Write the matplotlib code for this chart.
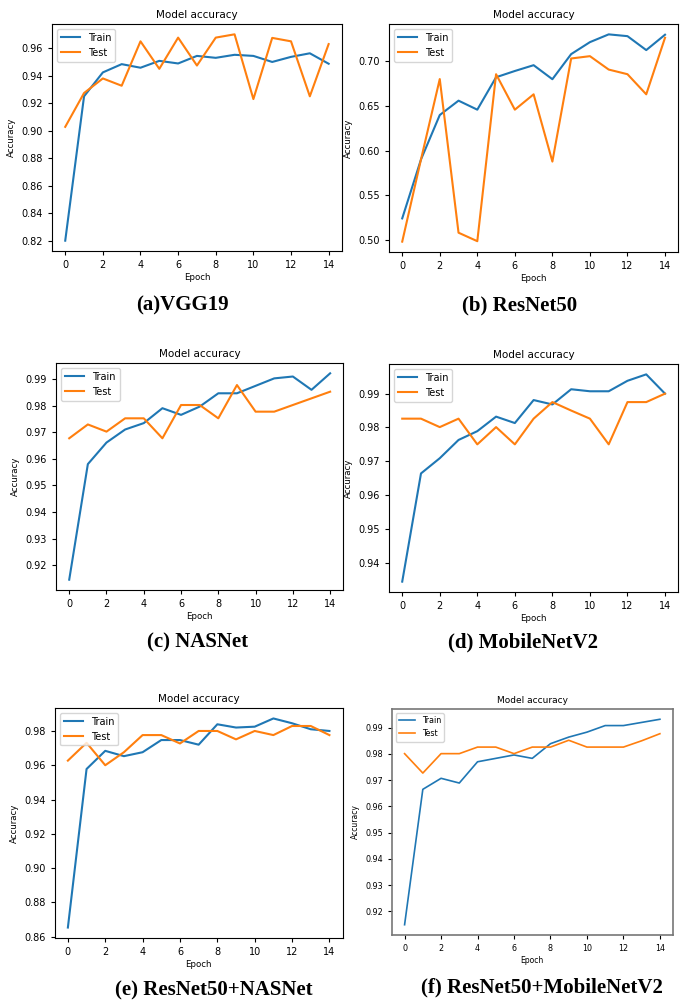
import matplotlib
matplotlib.use('Agg')
import matplotlib.pyplot as plt

epochs = list(range(15))

# (a) VGG19
vgg_train = [0.820, 0.925, 0.9424, 0.9484, 0.9458, 0.9508, 0.9489, 0.9544, 0.953, 0.9552, 0.9544, 0.950, 0.9537, 0.9563, 0.9487]
vgg_test = [0.9028, 0.9274, 0.938, 0.9327, 0.965, 0.945, 0.9677, 0.9474, 0.9677, 0.9701, 0.923, 0.9675, 0.965, 0.925, 0.963]

# (b) ResNet50
res_train = [0.524, 0.590, 0.6397, 0.6558, 0.6457, 0.682, 0.689, 0.6955, 0.6798, 0.7079, 0.7213, 0.730, 0.728, 0.7124, 0.7296]
res_test = [0.498, 0.590, 0.680, 0.508, 0.4985, 0.6854, 0.6457, 0.6629, 0.5876, 0.703, 0.7056, 0.6906, 0.6854, 0.6629, 0.7262]

# (c) NASNet
nas_train = [0.9146, 0.958, 0.9661, 0.971, 0.9734, 0.979, 0.9765, 0.9796, 0.9846, 0.9846, 0.9874, 0.9902, 0.9909, 0.9859, 0.9921]
nas_test = [0.9677, 0.9729, 0.9702, 0.9752, 0.9752, 0.9677, 0.9802, 0.9802, 0.9752, 0.9877, 0.9777, 0.9777, 0.9802, 0.9827, 0.9852]

# (d) MobileNetV2
mob_train = [0.9344, 0.9664, 0.9709, 0.9763, 0.9789, 0.9832, 0.9813, 0.9881, 0.9868, 0.9913, 0.9907, 0.9907, 0.9938, 0.9957, 0.990]
mob_test = [0.9826, 0.9826, 0.9801, 0.9826, 0.975, 0.9801, 0.975, 0.9826, 0.9875, 0.985, 0.9826, 0.975, 0.9875, 0.9875, 0.990]

# (e) ResNet50+NASNet
rn_train = [0.8653, 0.9578, 0.9684, 0.9653, 0.9676, 0.9747, 0.9747, 0.972, 0.9839, 0.982, 0.9825, 0.9873, 0.9845, 0.981, 0.980]
rn_test = [0.9627, 0.9731, 0.960, 0.9676, 0.9776, 0.9776, 0.9727, 0.980, 0.980, 0.9751, 0.980, 0.9776, 0.9829, 0.9829, 0.9776]

# (f) ResNet50+MobileNetV2
rm_train = [0.9149, 0.9665, 0.9707, 0.9689, 0.977, 0.9783, 0.9796, 0.9783, 0.9839, 0.9864, 0.9883, 0.9908, 0.9908, 0.992, 0.9932]
rm_test = [0.9801, 0.9727, 0.9801, 0.9801, 0.9826, 0.9826, 0.9801, 0.9826, 0.9826, 0.9852, 0.9826, 0.9826, 0.9826, 0.985, 0.9877]

captions = ['(a)VGG19', '(b) ResNet50', '(c) NASNet', '(d) MobileNetV2',
            '(e) ResNet50+NASNet', '(f) ResNet50+MobileNetV2']

panels = [
    (vgg_train, vgg_test, [0.076, 0.749, 0.423, 0.227], 0.267, 0.695),
    (res_train, res_test, [0.568, 0.748, 0.422, 0.228], 0.759, 0.695),
    (nas_train, nas_test, [0.082, 0.410, 0.419, 0.227], 0.288, 0.358),
    (mob_train, mob_test, [0.568, 0.408, 0.422, 0.228], 0.764, 0.358),
    (rn_train, rn_test, [0.080, 0.062, 0.420, 0.230], 0.312, 0.010),
    (rm_train, rm_test, [0.572, 0.065, 0.410, 0.226], 0.791, 0.013),
]

fig = plt.figure(figsize=(6.85, 10), dpi=100)

for i, (train, test, rect, cx, cy) in enumerate(panels):
    ax = fig.add_axes(rect)
    small = (i == 5)
    lw = 1.2 if small else 1.5
    fs = 5.8 if small else 7
    ax.plot(epochs, train, color='#1f77b4', linewidth=lw, label='Train')
    ax.plot(epochs, test, color='#ff7f0e', linewidth=lw, label='Test')
    ax.set_xticks(range(0, 15, 2))
    ax.tick_params(labelsize=fs, length=3)
    ax.set_title('Model accuracy', fontsize=6.5 if small else 7.5, pad=4)
    ax.set_xlabel('Epoch', fontsize=5.5 if small else 6.2, labelpad=2)
    ax.set_ylabel('Accuracy', fontsize=5.5 if small else 6.2, labelpad=4)
    ax.legend(loc='upper left', fontsize=fs, handlelength=2.0, borderpad=0.4, labelspacing=0.5)
    if small:
        for s in ax.spines.values():
            s.set_color('#777777')
            s.set_linewidth(1.2)
    fig.text(cx, cy, captions[i], fontsize=15, fontweight='bold',
             family='Liberation Serif', ha='center', va='center')

plt.savefig('out.png', dpi=100)
